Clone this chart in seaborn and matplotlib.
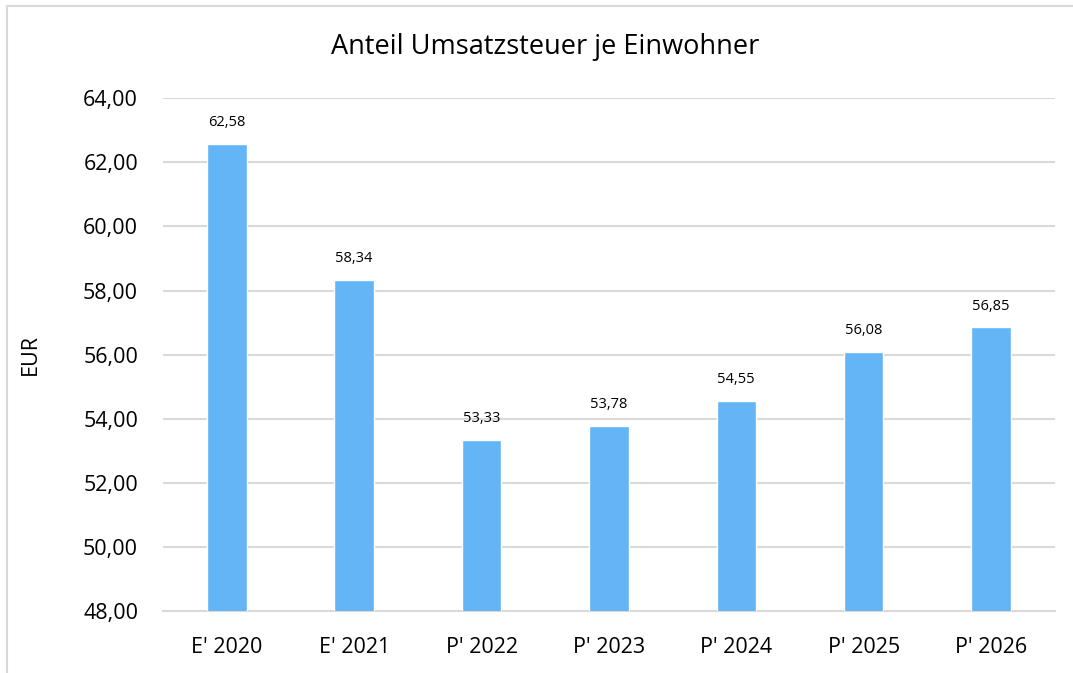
import matplotlib
matplotlib.use("Agg")
import matplotlib.pyplot as plt
import seaborn as sns
import pandas as pd
from matplotlib.patches import Rectangle
from matplotlib.ticker import FuncFormatter

# Daten
jahre = ["E' 2020", "E' 2021", "P' 2022", "P' 2023", "P' 2024", "P' 2025", "P' 2026"]
werte = [62.58, 58.34, 53.33, 53.78, 54.55, 56.08, 56.85]
y_ticks = [48, 50, 52, 54, 56, 58, 60, 62, 64]

df = pd.DataFrame({"Jahr": jahre, "EUR": werte})

sns.set_style("white")
plt.rcParams['font.family'] = ['Open Sans', 'DejaVu Sans']
plt.rcParams['text.color'] = 'black'
plt.rcParams['axes.labelcolor'] = 'black'

fig = plt.figure(figsize=(10.73, 6.73), dpi=100)
ax = fig.add_axes([0.152, 0.092, 0.831, 0.762])

sns.barplot(data=df, x="Jahr", y="EUR", color="#64B5F6", width=0.31,
            saturation=1, ax=ax, zorder=3)

ax.set_ylim(48, 64)
ax.set_yticks(y_ticks)
ax.yaxis.set_major_formatter(FuncFormatter(lambda v, p: f"{v:.2f}".replace(".", ",")))
ax.grid(axis="y", color="#D9D9D9", linewidth=1.5, zorder=0)
ax.set_axisbelow(True)
for s in ["top", "right", "left"]:
    ax.spines[s].set_visible(False)
ax.spines["bottom"].set_color("#D9D9D9")
ax.spines["bottom"].set_linewidth(1.5)
ax.tick_params(axis="both", length=0, labelsize=15.5, colors="black")
ax.tick_params(axis="y", pad=18)
ax.tick_params(axis="x", pad=19)
ax.set_xlabel("")
ax.set_ylabel("EUR", fontsize=15.5)
ax.yaxis.set_label_coords(-0.137, 0.5)

ax.bar_label(ax.containers[0], labels=[f"{v:.2f}".replace(".", ",") for v in werte],
             padding=10, fontsize=10.5, color="black")

fig.text(0.508, 0.93, "Anteil Umsatzsteuer je Einwohner", ha="center", va="center",
         fontsize=19.5, color="black")

# Rahmen
fig.patches.append(Rectangle((7 / 1073, -0.01), 1.02, 1 - 6 / 673 + 0.01,
                             transform=fig.transFigure, fill=False,
                             edgecolor="#D9D9D9", linewidth=1.5))

fig.savefig("out.png", dpi=100)
